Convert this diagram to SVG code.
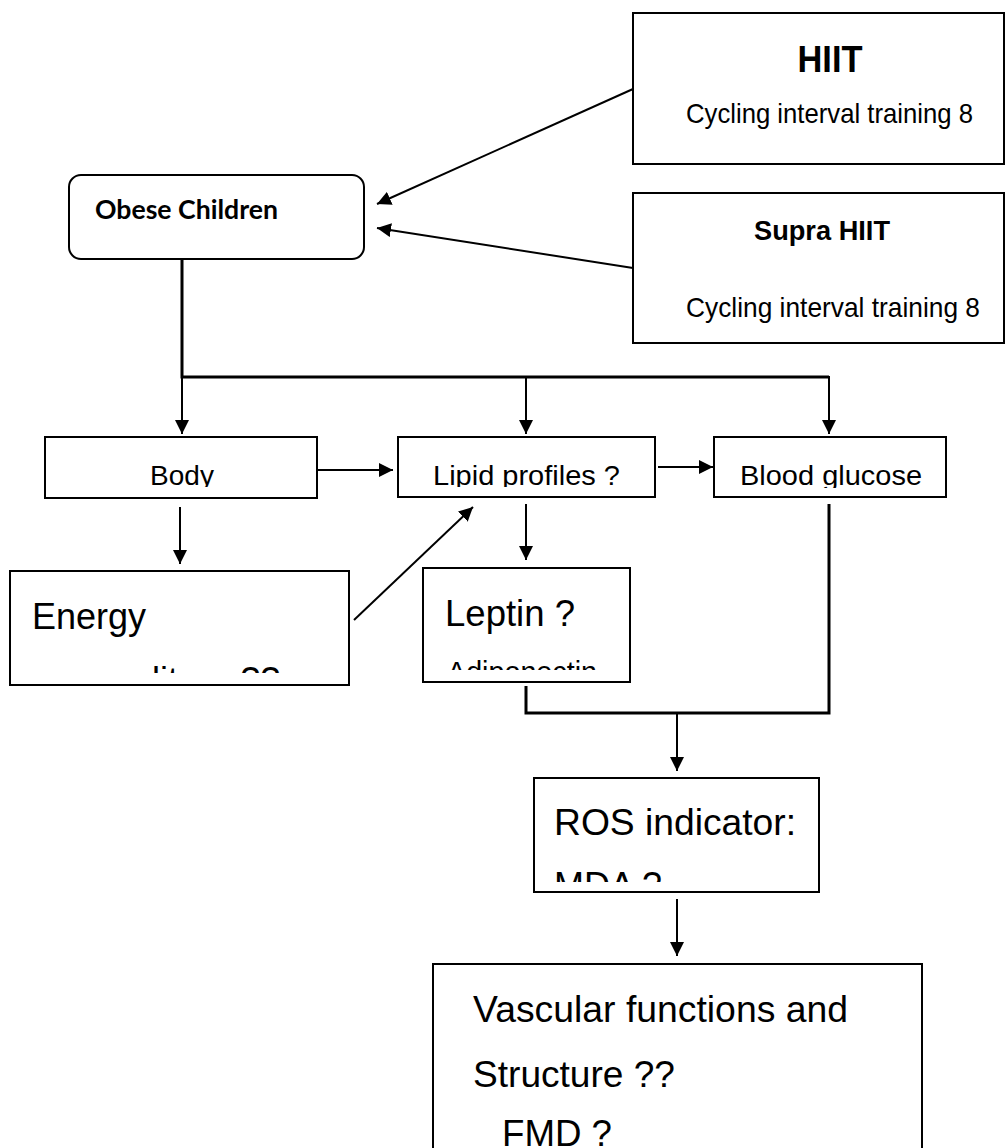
<svg xmlns="http://www.w3.org/2000/svg" width="1006" height="1148" viewBox="0 0 1006 1148">
<style>
.box{fill:#fff;stroke:#000;stroke-width:2}
.t{font-family:"Liberation Sans",Arial,sans-serif;fill:#000}
.ln{fill:none;stroke:#000;stroke-width:2}
.bus{fill:none;stroke:#000;stroke-width:3}
</style>
<defs>
<marker id="ah" viewBox="0 0 14 14" refX="14" refY="7" markerWidth="14" markerHeight="14" markerUnits="userSpaceOnUse" orient="auto">
<path d="M0,0 L14,7 L0,14 Z" fill="#000"/>
</marker>
<clipPath id="cBody"><rect x="45" y="437" width="272" height="50"/></clipPath>
<clipPath id="cLipid"><rect x="398" y="437" width="257" height="50"/></clipPath>
<clipPath id="cBlood"><rect x="714" y="437" width="232" height="51"/></clipPath>
<clipPath id="cEnergy"><rect x="10" y="571" width="339" height="102"/></clipPath>
<clipPath id="cLeptin"><rect x="423" y="568" width="207" height="102"/></clipPath>
<clipPath id="cROS"><rect x="534" y="778" width="285" height="104"/></clipPath>
</defs>
<rect width="1006" height="1148" fill="#fff"/>

<g id="connectors">
<line class="ln" x1="633" y1="89" x2="377" y2="204" marker-end="url(#ah)"/>
<line class="ln" x1="633" y1="268" x2="377" y2="228" marker-end="url(#ah)"/>
<polyline class="bus" points="182,259 182,377 829,377"/>
<line class="ln" x1="182" y1="377" x2="182" y2="434" marker-end="url(#ah)"/>
<line class="ln" x1="526" y1="377" x2="526" y2="434" marker-end="url(#ah)"/>
<line class="ln" x1="829" y1="376" x2="829" y2="434" marker-end="url(#ah)"/>
<line class="ln" x1="318" y1="470" x2="393" y2="470" marker-end="url(#ah)"/>
<line class="ln" x1="658" y1="467" x2="713" y2="467" marker-end="url(#ah)"/>
<line class="ln" x1="180" y1="507" x2="180" y2="564" marker-end="url(#ah)"/>
<line class="ln" x1="526" y1="504" x2="526" y2="560" marker-end="url(#ah)"/>
<line class="ln" x1="354" y1="620" x2="473" y2="507" marker-end="url(#ah)"/>
<polyline class="bus" points="526,686 526,713 829,713 829,504"/>
<line class="ln" x1="677" y1="713" x2="677" y2="771" marker-end="url(#ah)"/>
<line class="ln" x1="677" y1="899" x2="677" y2="956" marker-end="url(#ah)"/>
</g>

<g id="hiit">
<rect class="box" x="633" y="13" width="371" height="151"/>
<text class="t" x="830" y="72" font-size="36" font-weight="bold" text-anchor="middle" textLength="65" lengthAdjust="spacingAndGlyphs">HIIT</text>
<text class="t" x="686" y="123" font-size="28" textLength="287" lengthAdjust="spacingAndGlyphs">Cycling interval training 8</text>
</g>

<g id="supra-hiit">
<rect class="box" x="633" y="193" width="371" height="150"/>
<text class="t" x="754" y="240" font-size="27" font-weight="bold" textLength="136" lengthAdjust="spacingAndGlyphs">Supra HIIT</text>
<text class="t" x="686" y="317" font-size="28" textLength="294" lengthAdjust="spacingAndGlyphs">Cycling interval training 8</text>
</g>

<g id="obese-children">
<rect class="box" x="69" y="175" width="295" height="84" rx="12" ry="12"/>
<text x="95" y="219" font-family="Lato,'Open Sans',sans-serif" font-weight="bold" font-size="27" textLength="183" lengthAdjust="spacingAndGlyphs">Obese Children</text>
</g>

<g id="body">
<rect class="box" x="45" y="437" width="272" height="61"/>
<text class="t" x="182" y="485" font-size="28" text-anchor="middle" clip-path="url(#cBody)">Body</text>
</g>

<g id="lipid-profiles">
<rect class="box" x="398" y="437" width="257" height="60"/>
<text class="t" x="433" y="485" font-size="28" textLength="187" lengthAdjust="spacingAndGlyphs" clip-path="url(#cLipid)">Lipid profiles ?</text>
</g>

<g id="blood-glucose">
<rect class="box" x="714" y="437" width="232" height="60"/>
<text class="t" x="740" y="485" font-size="28" textLength="182" lengthAdjust="spacingAndGlyphs" clip-path="url(#cBlood)">Blood glucose</text>
</g>

<g id="energy">
<rect class="box" x="10" y="571" width="339" height="114"/>
<g clip-path="url(#cEnergy)">
<text class="t" x="32" y="629" font-size="36">Energy</text>
<text class="t" x="42" y="693" font-size="36">expenditure ??</text>
</g>
</g>

<g id="leptin">
<rect class="box" x="423" y="568" width="207" height="114"/>
<g clip-path="url(#cLeptin)">
<text class="t" x="445" y="626" font-size="36" textLength="130" lengthAdjust="spacingAndGlyphs">Leptin ?</text>
<text class="t" x="447" y="682" font-size="29" textLength="150" lengthAdjust="spacingAndGlyphs">Adiponectin</text>
</g>
</g>

<g id="ros">
<rect class="box" x="534" y="778" width="285" height="114"/>
<g clip-path="url(#cROS)">
<text class="t" x="554" y="835" font-size="36" textLength="242" lengthAdjust="spacingAndGlyphs">ROS indicator:</text>
<text class="t" x="554" y="898" font-size="36">MDA ?</text>
</g>
</g>

<g id="vascular">
<rect class="box" x="433" y="964" width="489" height="200"/>
<text class="t" x="473" y="1022" font-size="36" textLength="375" lengthAdjust="spacingAndGlyphs">Vascular functions and</text>
<text class="t" x="473" y="1087" font-size="36" textLength="202" lengthAdjust="spacingAndGlyphs">Structure ??</text>
<text class="t" x="502" y="1146" font-size="36" textLength="110" lengthAdjust="spacingAndGlyphs">FMD ?</text>
</g>
</svg>
